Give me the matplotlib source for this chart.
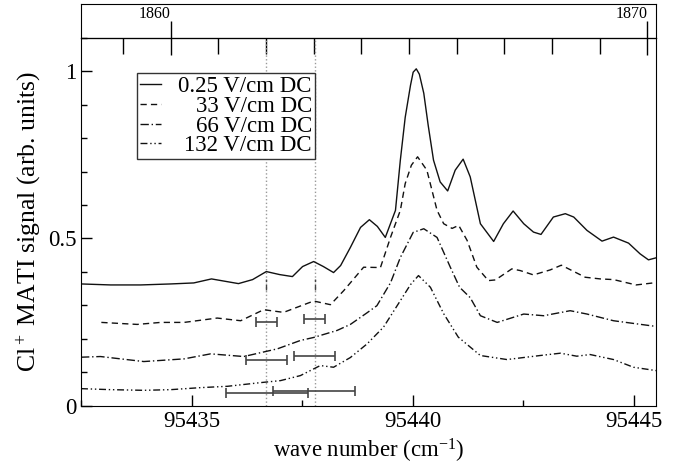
import numpy as np
import matplotlib
matplotlib.use('Agg')
import matplotlib.pyplot as plt
from matplotlib.ticker import MultipleLocator, FixedLocator

plt.rcParams['font.family'] = ['Liberation Serif', 'DejaVu Serif']
plt.rcParams['mathtext.fontset'] = 'custom'
plt.rcParams['mathtext.rm'] = 'Liberation Serif'
plt.rcParams['mathtext.it'] = 'Liberation Serif:italic'

# 0.25 V/cm DC
x1 = [95432.5, 95433.17, 95433.85, 95434.53, 95435.05, 95435.45, 95436.06, 95436.38,
      95436.69, 95436.99, 95437.28, 95437.51, 95437.76, 95437.98, 95438.21, 95438.37,
      95438.59, 95438.82, 95439.02, 95439.20, 95439.38, 95439.61, 95439.72, 95439.83,
      95439.95, 95440.01, 95440.08, 95440.15, 95440.25, 95440.35, 95440.47, 95440.62,
      95440.79, 95440.96, 95441.14, 95441.30, 95441.53, 95441.83, 95442.05, 95442.27,
      95442.51, 95442.73, 95442.90, 95443.18, 95443.45, 95443.64, 95443.94, 95444.28,
      95444.54, 95444.88, 95445.14, 95445.33, 95445.5]
y1 = [0.364, 0.361, 0.361, 0.364, 0.367, 0.379, 0.365, 0.377,
      0.401, 0.392, 0.386, 0.416, 0.431, 0.416, 0.398, 0.419,
      0.473, 0.533, 0.556, 0.536, 0.503, 0.584, 0.734, 0.862,
      0.958, 0.997, 1.007, 0.991, 0.934, 0.838, 0.734, 0.669,
      0.642, 0.704, 0.737, 0.684, 0.544, 0.491, 0.544, 0.582,
      0.544, 0.519, 0.512, 0.564, 0.574, 0.564, 0.524, 0.492,
      0.504, 0.486, 0.454, 0.436, 0.442]

# 33 V/cm DC
x2 = [95432.96, 95433.77, 95434.30, 95434.83, 95435.58, 95436.11, 95436.63, 95437.08,
      95437.76, 95438.14, 95438.44, 95438.89, 95439.27, 95439.50, 95439.72, 95439.83,
      95439.97, 95440.11, 95440.32, 95440.55, 95440.70, 95440.89, 95441.04, 95441.23,
      95441.45, 95441.71, 95441.87, 95442.24, 95442.43, 95442.73, 95443.11, 95443.36,
      95443.90, 95444.24, 95444.54, 95445.05, 95445.5]
y2 = [0.249, 0.243, 0.249, 0.249, 0.262, 0.254, 0.287, 0.279,
      0.313, 0.302, 0.344, 0.414, 0.413, 0.504, 0.584, 0.664,
      0.719, 0.744, 0.704, 0.584, 0.544, 0.530, 0.539, 0.494,
      0.414, 0.374, 0.376, 0.409, 0.404, 0.391, 0.406, 0.420,
      0.384, 0.379, 0.377, 0.361, 0.368]

# 66 V/cm DC
x3 = [95432.5, 95432.94, 95433.92, 95434.83, 95435.43, 95436.18, 95436.94, 95437.46,
      95437.76, 95438.29, 95438.59, 95438.97, 95439.19, 95439.50, 95439.72, 95440.01,
      95440.25, 95440.55, 95440.85, 95441.06, 95441.30, 95441.53, 95441.91, 95442.51,
      95442.96, 95443.56, 95443.94, 95444.54, 95444.99, 95445.5]
y3 = [0.145, 0.147, 0.132, 0.140, 0.155, 0.147, 0.170, 0.195,
      0.204, 0.225, 0.243, 0.278, 0.299, 0.368, 0.443, 0.518,
      0.529, 0.503, 0.414, 0.354, 0.323, 0.269, 0.249, 0.274,
      0.269, 0.284, 0.274, 0.254, 0.246, 0.237]

# 132 V/cm DC
x4 = [95432.5, 95433.17, 95433.92, 95434.53, 95435.20, 95435.81, 95436.56, 95437.01,
      95437.46, 95437.91, 95438.21, 95438.59, 95438.97, 95439.34, 95439.72, 95439.95,
      95440.13, 95440.40, 95440.70, 95441.03, 95441.53, 95442.13, 95442.88, 95443.34,
      95443.71, 95444.01, 95444.54, 95444.99, 95445.5]
y4 = [0.051, 0.048, 0.046, 0.048, 0.054, 0.058, 0.069, 0.075,
      0.090, 0.120, 0.115, 0.144, 0.185, 0.235, 0.314, 0.362,
      0.389, 0.354, 0.275, 0.205, 0.150, 0.138, 0.150, 0.157,
      0.148, 0.153, 0.138, 0.115, 0.105]

labels = ['0.25 V/cm DC', '33 V/cm DC', '66 V/cm DC', '132 V/cm DC']

# thresholds (dotted lines) and error bars
thresholds = [95436.69, 95437.78]
err_x = [95436.70, 95437.78, 95436.70, 95437.78, 95436.70, 95437.77]
err_y = [0.249, 0.258, 0.138, 0.148, 0.037, 0.045]
err_w = [0.235, 0.233, 0.46, 0.46, 0.926, 0.92]

# top scale: s = S0 + (x - X0) * SLOPE
S0, X0, SLOPE = 1860.44, 95435.0, 0.9281

fig = plt.figure(figsize=(6.79, 4.68), dpi=100)
ax = fig.add_axes([0.1193, 0.1331, 0.8468, 0.7863])
strip = fig.add_axes([0.1193, 0.9194, 0.8468, 0.0721])
strip.set_facecolor('none')
strip.set_xticks([])
strip.set_yticks([])

for t in thresholds:
    ax.axvline(t, color='#999999', ls=':', lw=1.0, zorder=1)
    ax.plot([t, t], [0.345, 0.378], color='#444444', ls=(0, (4, 2)), lw=1.0)

ax.plot(x1, y1, color='#111111', lw=1.0, ls='-', label=labels[0])
ax.plot(x2, y2, color='#111111', lw=1.0, ls=(0, (4.5, 3)), label=labels[1])
ax.plot(x3, y3, color='#111111', lw=1.0, ls=(0, (6, 2, 1, 2)), label=labels[2])
ax.plot(x4, y4, color='#111111', lw=1.0, ls=(0, (5, 2, 1, 2, 1, 2)), label=labels[3])

ax.errorbar(err_x, err_y, xerr=err_w, fmt='none', ecolor='#444444',
            elinewidth=1.2, capsize=3.5, capthick=1.2)

ax.set_xlim(95432.5, 95445.5)
ax.set_ylim(0, 1.1)
ax.xaxis.set_major_locator(FixedLocator([95435, 95440, 95445]))
ax.xaxis.set_minor_locator(MultipleLocator(2.5))
ax.yaxis.set_major_locator(FixedLocator([0, 0.5, 1]))
ax.yaxis.set_minor_locator(MultipleLocator(0.1))
ax.ticklabel_format(useOffset=False, axis='x')
ax.set_yticklabels(['0', '0.5', '1'])
ax.tick_params(which='major', direction='in', length=8, width=1, labelsize=16.5,
               top=False, right=False)
ax.tick_params(axis='x', which='major', pad=4)
ax.tick_params(which='minor', direction='in', length=4, width=1, top=False, right=False)

sec = ax.secondary_xaxis('top', functions=(lambda x: S0 + (x - X0) * SLOPE,
                                           lambda s: X0 + (s - S0) / SLOPE))
sec.xaxis.set_major_locator(FixedLocator([1860, 1870]))
sec.xaxis.set_minor_locator(MultipleLocator(1))
sec.tick_params(which='major', direction='inout', length=24.5, width=1, labelsize=11.5, pad=-1)
sec.tick_params(which='minor', direction='in', length=11.5, width=1)
for t in sec.get_xticklabels():
    t.set_ha('right')

ax.set_xlabel('wave number (cm$^{-1}$)', fontsize=16.5, labelpad=3)
ax.set_ylabel('Cl$^+$ MATI signal (arb. units)', fontsize=18.5, labelpad=3)

leg = ax.legend(loc='upper left', bbox_to_anchor=(0.097, 0.903), borderaxespad=0,
                fontsize=16.5, frameon=True, fancybox=False, framealpha=1,
                edgecolor='#333333', handlelength=0.95, handletextpad=0.75,
                labelspacing=-0.06, borderpad=0.12)
leg.get_frame().set_linewidth(1.0)
fig.canvas.draw()
widths = [t.get_window_extent().width for t in leg.get_texts()]
for t, w in zip(leg.get_texts(), widths):
    t.set_position((max(widths) - w, 0))

fig.savefig('out.png', dpi=100)
